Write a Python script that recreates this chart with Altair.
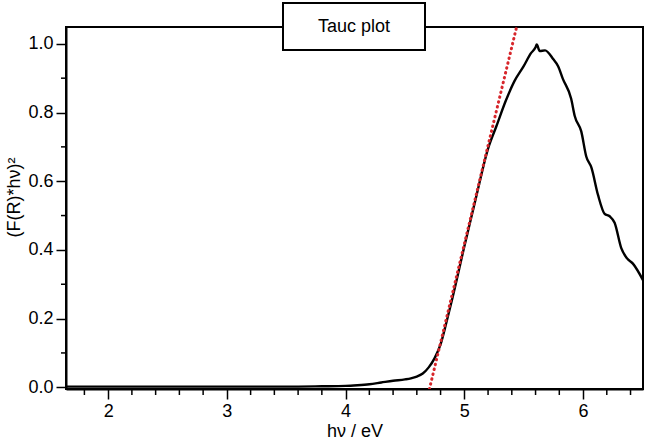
import altair as alt
import pandas as pd

# Tauc plot curve
energy = [1.65, 2.0, 2.5, 3.0, 3.5, 3.8, 4.0, 4.1, 4.2, 4.3, 4.4, 4.5, 4.55, 4.6, 4.65,
          4.7, 4.75, 4.8, 4.85, 4.9, 5.0, 5.1, 5.2, 5.27, 5.35, 5.42, 5.5, 5.56, 5.6,
          5.61, 5.635, 5.68, 5.75, 5.79, 5.83, 5.9, 5.93, 5.985, 6.027, 6.07, 6.126,
          6.182, 6.224, 6.266, 6.322, 6.369, 6.42, 6.505]
intensity = [0.002, 0.002, 0.002, 0.002, 0.002, 0.003, 0.004, 0.006, 0.009, 0.014, 0.019,
             0.023, 0.026, 0.031, 0.040, 0.058, 0.085, 0.125, 0.19, 0.26, 0.41, 0.555,
             0.695, 0.76, 0.835, 0.89, 0.935, 0.972, 0.99, 0.998, 0.979, 0.981, 0.955,
             0.935, 0.898, 0.84, 0.79, 0.745, 0.672, 0.640, 0.560, 0.505, 0.498, 0.479,
             0.405, 0.376, 0.360, 0.312]

# linear fit line (dotted red)
fit_x = [4.706, 5.441]
fit_y = [-0.005, 1.05]

# tick values
x_major = [2, 3, 4, 5, 6]
x_minor = [1.8, 2.2, 2.4, 2.6, 2.8, 3.2, 3.4, 3.6, 3.8, 4.2, 4.4, 4.6, 4.8,
           5.2, 5.4, 5.6, 5.8, 6.2, 6.4]
y_major = [0.0, 0.2, 0.4, 0.6, 0.8, 1.0]
y_minor = [0.1, 0.3, 0.5, 0.7, 0.9]

x_domain = [1.645, 6.505]
y_domain = [-0.005, 1.049]

W, H = 577, 362
FONT = "Liberation Sans"

xs = alt.Scale(domain=x_domain, nice=False, zero=False)
ys = alt.Scale(domain=y_domain, nice=False, zero=False)
xax = alt.Axis(values=x_major, format="d", title="hν / eV", titlePadding=2)
yax = alt.Axis(values=y_major, format=".1f", title="(F(R)*hν)²", titlePadding=4, titleY=170)

curve_df = pd.DataFrame({"e": energy, "v": intensity})
fit_df = pd.DataFrame({"e": fit_x, "v": fit_y})
xmin_df = pd.DataFrame({"e": x_minor})
ymin_df = pd.DataFrame({"v": y_minor})
one = alt.Data(values=[{}])

frame = alt.Chart(one).mark_rect(filled=False, stroke="black", strokeWidth=2).encode(
    x=alt.value(0), x2=alt.value(W), y=alt.value(0), y2=alt.value(H))

curve = alt.Chart(curve_df).mark_line(color="black", strokeWidth=2.4, interpolate="monotone").encode(
    x=alt.X("e:Q", scale=xs, axis=xax),
    y=alt.Y("v:Q", scale=ys, axis=yax),
)

fit = alt.Chart(fit_df).mark_line(color="#d7262b", strokeWidth=3, strokeDash=[0.5, 4.5],
                                  strokeCap="round", clip=True).encode(
    x=alt.X("e:Q", scale=xs, axis=xax),
    y=alt.Y("v:Q", scale=ys, axis=yax),
)

xminor = alt.Chart(xmin_df).mark_rule(color="black", strokeWidth=1.5).encode(
    x=alt.X("e:Q", scale=xs, axis=xax),
    y=alt.value(H), y2=alt.value(H + 6))

yminor = alt.Chart(ymin_df).mark_rule(color="black", strokeWidth=1.5).encode(
    y=alt.Y("v:Q", scale=ys, axis=yax),
    x=alt.value(0), x2=alt.value(-5))

box = alt.Chart(one).mark_rect(fill="white", stroke="black", strokeWidth=2).encode(
    x=alt.value(217), x2=alt.value(359), y=alt.value(-24), y2=alt.value(23))

label = alt.Chart(one).mark_text(text="Tauc plot", font=FONT, fontSize=18, color="black",
                                 align="center", baseline="middle").encode(
    x=alt.value(288), y=alt.value(0))

chart = alt.layer(frame, curve, fit, xminor, yminor, box, label).properties(
    width=W, height=H,
    autosize=alt.AutoSizeParams(type="none"),
    padding={"left": 66, "top": 27, "right": 3, "bottom": 53},
    background="white",
).configure_view(strokeWidth=0).configure_axis(
    grid=False,
    domainColor="black", domainWidth=2,
    tickColor="black", tickWidth=1.5, tickSize=10,
    labelFont=FONT, labelFontSize=18, labelColor="black", labelPadding=3,
    titleFont=FONT, titleFontSize=18, titleColor="black", titleFontWeight="normal",
)

chart.save("out.html", embed_options={"renderer": "svg", "actions": False})
